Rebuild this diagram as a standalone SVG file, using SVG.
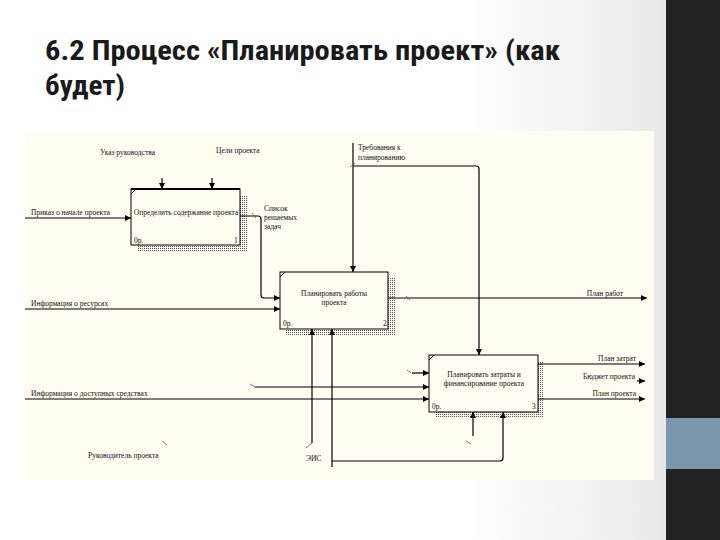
<svg xmlns="http://www.w3.org/2000/svg" width="720" height="540" viewBox="0 0 720 540">
<defs>
<linearGradient id="bg" x1="0" y1="0" x2="1" y2="0">
<stop offset="0" stop-color="#ffffff"/>
<stop offset="0.7" stop-color="#ffffff"/>
<stop offset="1" stop-color="#e9e9e9"/>
</linearGradient>
<pattern id="dots" width="2" height="2" patternUnits="userSpaceOnUse">
<rect width="2" height="2" fill="#fffcf2"/>
<rect width="1" height="1" fill="#555"/>
</pattern>
<marker id="ah" viewBox="0 0 6 6" refX="6" refY="3" markerWidth="6" markerHeight="6" orient="auto" markerUnits="userSpaceOnUse">
<path d="M0,0 L6,3 L0,6 Z" fill="#000"/>
</marker>
<style>
.t{font-family:"Liberation Serif","DejaVu Serif",serif;font-size:7.5px;fill:#111}
.c{text-anchor:middle}
.e{text-anchor:end}
.box{fill:#fffcf2;stroke:#000;stroke-width:1}
.sh{fill:url(#dots)}
.ln{fill:none;stroke:#000;stroke-width:1.2;marker-end:url(#ah)}
.tk{fill:none;stroke:#555;stroke-width:0.8}
.title{font-family:"Liberation Sans Narrow","Roboto Condensed","Liberation Sans",Arial,sans-serif;font-weight:bold;font-size:27px;fill:#1a1a1a}
</style>
</defs>
<rect x="0" y="0" width="666" height="540" fill="url(#bg)"/>
<rect x="660" y="0" width="6" height="540" fill="#e8e8e8"/>
<rect x="666" y="0" width="54" height="540" fill="#222222"/>
<rect x="666" y="418" width="54" height="51" fill="#7b97ab"/>
<text class="title" x="45" y="60" textLength="515" lengthAdjust="spacingAndGlyphs">6.2 Процесс «Планировать проект» (как</text>
<text class="title" x="45" y="95" textLength="80" lengthAdjust="spacingAndGlyphs">будет)</text>
<rect x="25" y="131" width="629" height="349" fill="#fffcf2"/>

<g id="box1">
<rect class="sh" x="137" y="195" width="110" height="57"/>
<rect class="box" x="131" y="189" width="109" height="56"/>
<line x1="131" y1="189" x2="240" y2="189" stroke="#000" stroke-width="2"/>
<line x1="131" y1="194" x2="136" y2="189" stroke="#000" stroke-width="1"/>
<text class="t c" x="186" y="215">Определить содержание проекта</text>
<text class="t" x="134" y="243">0р.</text>
<text class="t" x="234" y="243">1</text>
</g>
<g id="box2">
<rect class="sh" x="286" y="278" width="109" height="57"/>
<rect class="box" x="280" y="272" width="108" height="57"/>
<line x1="280" y1="277" x2="285" y2="272" stroke="#000" stroke-width="1"/>
<text class="t c" x="334" y="296">Планировать работы</text>
<text class="t c" x="334" y="305">проекта</text>
<text class="t" x="283" y="326">0р.</text>
<text class="t" x="383" y="326">2</text>
</g>
<g id="box3">
<rect class="sh" x="435" y="361" width="109" height="57"/>
<rect class="box" x="429" y="355" width="109" height="57"/>
<line x1="429" y1="360" x2="434" y2="355" stroke="#000" stroke-width="1"/>
<text class="t c" x="484" y="377">Планировать затраты и</text>
<text class="t c" x="484" y="386">финансирование проекта</text>
<text class="t" x="432" y="409">0р.</text>
<text class="t" x="532" y="409">3</text>
</g>

<g id="connectors">
<path class="ln" d="M162,178 V189"/>
<path class="ln" d="M212,178 V189"/>
<path class="ln" d="M25,218 H131"/>
<path class="ln" d="M240,216 H258 Q261,216 261,219 V295 Q261,298 264,298 H280"/>
<path class="ln" d="M25,309 H280"/>
<path class="ln" d="M353,143 V272"/>
<path class="ln" d="M353,166 H476 Q479,166 479,169 V355"/>
<path class="ln" d="M388,298 H647"/>
<path class="ln" d="M312,443 V329"/>
<path class="ln" d="M332,467 V329"/>
<path class="ln" d="M332,461 H500 Q503,461 503,458 V412"/>
<path class="ln" d="M473,436 V412"/>
<path class="ln" d="M412,373 H429"/>
<path class="ln" d="M255,387 H429"/>
<path class="ln" d="M25,399 H429"/>
<path class="ln" d="M538,364 H645"/>
<path class="ln" d="M637,381 H645"/>
<path class="ln" d="M538,399 H645"/>
<path class="tk" d="M312,443 L306,448"/>
<path class="tk" d="M162,441 L167,445"/>
<path class="tk" d="M407,370 L411,373"/>
<path class="tk" d="M250,384 L255,387"/>
<path class="tk" d="M466,441 L471,444"/>
<path class="tk" d="M252,213 L256,218"/>
<path class="tk" d="M350,167 L355,163"/>
<path class="tk" d="M406,296 L410,300"/>
</g>

<g id="labels">
<text class="t" x="100" y="155">Указ руководства</text>
<text class="t" x="216" y="153">Цели проекта</text>
<text class="t" x="31" y="215">Приказ о начале проекта</text>
<text class="t" x="264" y="211">Список</text>
<text class="t" x="264" y="220">решаемых</text>
<text class="t" x="264" y="229">задач</text>
<text class="t" x="358" y="150">Требования к</text>
<text class="t" x="358" y="160">планированию</text>
<text class="t" x="31" y="306">Информация о ресурсах</text>
<text class="t e" x="623" y="296">План работ</text>
<text class="t e" x="636" y="361">План затрат</text>
<text class="t e" x="635" y="379">Бюджет проекта</text>
<text class="t e" x="636" y="396">План проекта</text>
<text class="t" x="31" y="396">Информация о доступных средствах</text>
<text class="t" x="88" y="458">Руководитель проекта</text>
<text class="t" x="306" y="461">ЭИС</text>
</g>
</svg>
